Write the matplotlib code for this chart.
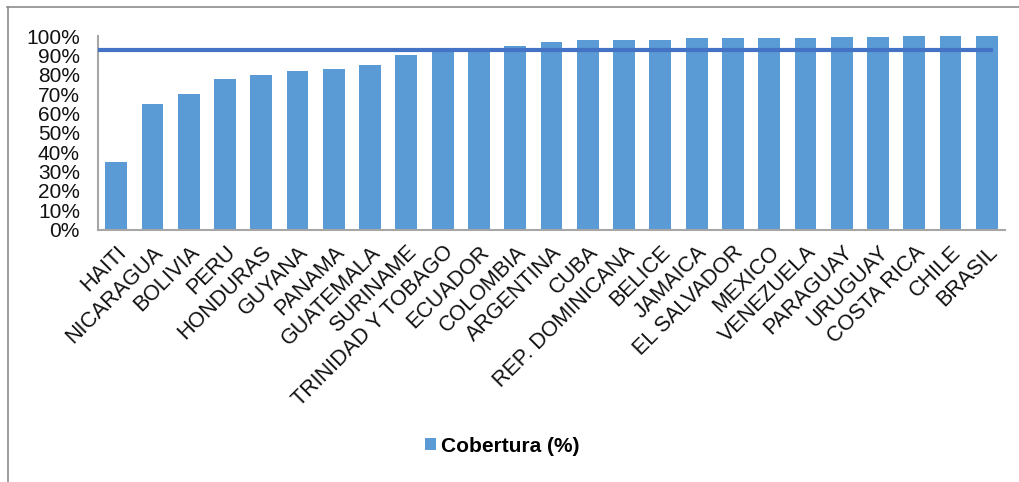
import matplotlib
matplotlib.use("Agg")
import matplotlib.pyplot as plt
from matplotlib.lines import Line2D
from matplotlib.ticker import PercentFormatter

plt.rcParams['font.family'] = ['Liberation Sans', 'DejaVu Sans']

paises = ["HAITI", "NICARAGUA", "BOLIVIA", "PERU", "HONDURAS", "GUYANA", "PANAMA",
          "GUATEMALA", "SURINAME", "TRINIDAD Y TOBAGO", "ECUADOR", "COLOMBIA",
          "ARGENTINA", "CUBA", "REP. DOMINICANA", "BELICE", "JAMAICA", "EL SALVADOR",
          "MEXICO", "VENEZUELA", "PARAGUAY", "URUGUAY", "COSTA RICA", "CHILE", "BRASIL"]
cobertura = [35, 65, 70, 78, 80, 82, 83, 85, 90, 92, 93, 95, 97, 98, 98, 98, 99, 99,
             99, 99, 99.5, 99.5, 100, 100, 100]
promedio = 93
yticks = list(range(0, 101, 10))

bar_color = "#5B9BD5"
line_color = "#4472C4"
axis_color = "#A6A6A6"

fig = plt.figure(figsize=(10.19, 4.82), dpi=100)
ax = fig.add_axes([98 / 1019, 1 - 229.5 / 482, 907 / 1019, 193.5 / 482])

x = list(range(len(paises)))
ax.bar(x, cobertura, width=0.6, color=bar_color, label="Cobertura (%)", zorder=2)
ax.plot([-0.5, len(paises) - 0.83], [promedio, promedio], color=line_color,
        linewidth=3, solid_capstyle="butt", zorder=3)

ax.set_xlim(-0.5, len(paises) - 0.5)
ax.set_ylim(0, 100)
ax.set_yticks(yticks)
ax.yaxis.set_major_formatter(PercentFormatter(100, decimals=0))
ax.tick_params(axis="y", length=0, pad=13, labelsize=15, labelcolor="#111111")
ax.set_xticks(x)
ax.set_xticklabels(paises, rotation=45, ha="right", va="top",
                   rotation_mode="anchor", fontsize=15.5, color="#111111")
ax.tick_params(axis="x", length=0, pad=9)

for side in ("top", "right"):
    ax.spines[side].set_visible(False)
for side in ("left", "bottom"):
    ax.spines[side].set_color(axis_color)
    ax.spines[side].set_linewidth(1.5)

leg = fig.legend(loc="center", bbox_to_anchor=(502 / 1019, 1 - 446 / 482),
                 frameon=False, borderpad=0, handlelength=0.53, handleheight=0.53,
                 handletextpad=0.25, prop={"weight": "bold", "size": 15})

# outer chart frame (top and left edges)
frame_color = "#8C8C8C"
fig.add_artist(Line2D([7 / 1019, 1], [1 - 6.5 / 482, 1 - 6.5 / 482],
                      transform=fig.transFigure, color=frame_color, linewidth=1.2))
fig.add_artist(Line2D([7.5 / 1019, 7.5 / 1019], [0, 1 - 6.5 / 482],
                      transform=fig.transFigure, color=frame_color, linewidth=1.2))

fig.savefig("out.png", dpi=100)
